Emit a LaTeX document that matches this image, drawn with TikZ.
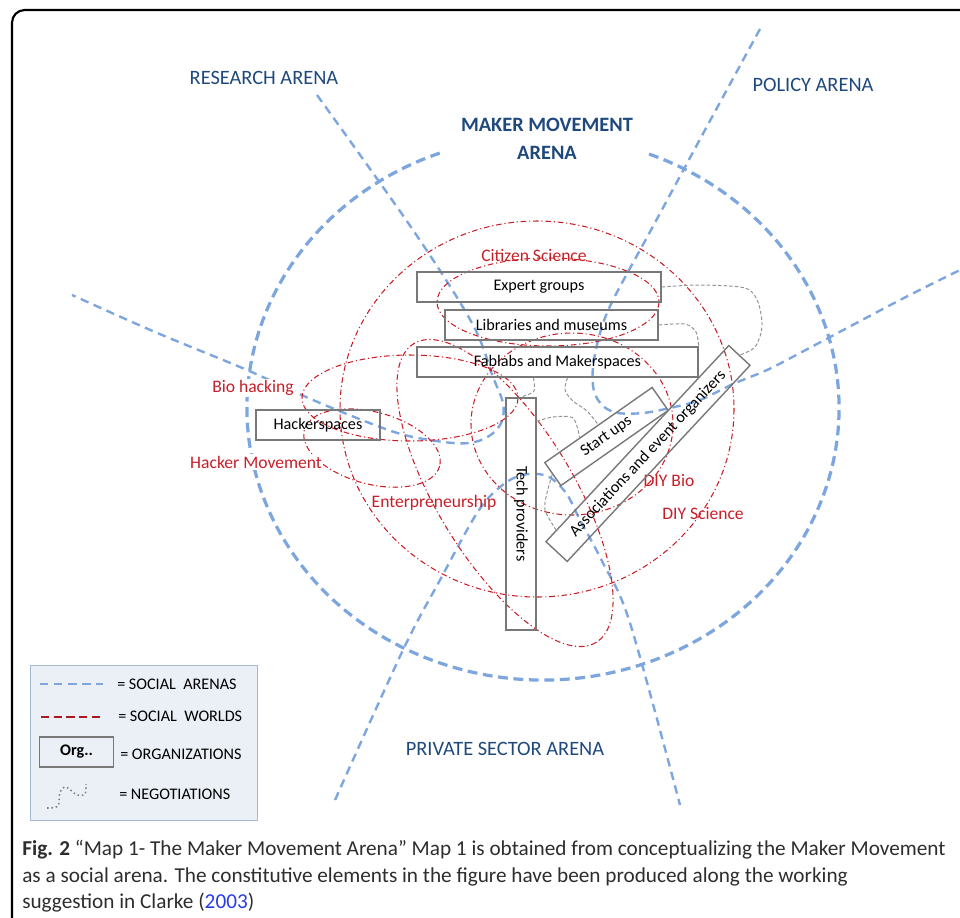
\documentclass[tikz,border=0pt]{standalone}
\usepackage{fontspec}
\setmainfont{Carlito}
\usetikzlibrary{calc}

\definecolor{arenablue}{RGB}{125,166,222}
\definecolor{arenatext}{RGB}{31,73,125}
\definecolor{worldred}{RGB}{200,30,40}
\definecolor{orggray}{RGB}{120,120,120}
\definecolor{keyfill}{RGB}{235,240,246}
\definecolor{keyline}{RGB}{165,185,212}
\definecolor{captiongray}{RGB}{45,45,45}
\definecolor{citeblue}{RGB}{40,60,230}

\begin{document}
\begin{tikzpicture}[
				x=0.025cm, y=-0.025cm,
				arena/.style={arenablue, line width=1.7pt, dash pattern=on 6pt off 4pt},
				mainarena/.style={arenablue, line width=2.3pt, dash pattern=on 7pt off 4pt},
				world/.style={worldred, line width=0.75pt, dash pattern=on 4pt off 2pt on 0.8pt off 2pt},
				nego/.style={gray!85, line width=0.7pt, dash pattern=on 2.5pt off 1.5pt},
				org/.style={
					draw=orggray,
					line width=1pt,
					rectangle,
					inner sep=0pt,
					minimum height=0.75cm,
					font=\fontsize{11.5}{13}\selectfont
				},
				arenaname/.style={text=arenatext, font=\fontsize{14.5}{20}\selectfont, align=center},
				worldname/.style={text=worldred, font=\fontsize{12.5}{14}\selectfont, inner sep=1pt},
				keytext/.style={anchor=west, font=\fontsize{11.5}{13}\selectfont, inner sep=0pt}
				]
				\useasboundingbox (0,0) rectangle (960,917);
				\draw[line width=1.5pt, rounded corners=9pt] (12,960) -- (12,10) -- (1000,10);
				
				% social arenas
				\draw[mainarena] (543,408) ++(291:296 and 272)
				arc[start angle=291, end angle=610, x radius=296, y radius=272];
				\draw[arena] plot[smooth, tension=0.55] coordinates {(317,95) (413,230) (472,323) (493,377) (503,403) (502,421) (492,434) (475,442) (453,443) (413,437) (380,427) (313,400) (247,370) (155,332) (72,295)};
				\draw[arena] plot[smooth, tension=0.55] coordinates {(760,29) (705,130) (651,230) (613,300) (600,333) (593,367) (594,391) (603,406) (618,413) (643,413) (670,408) (700,400) (733,384) (767,370) (800,353) (900,300) (960,270)};
				\draw[arena] plot[smooth, tension=0.55] coordinates {(335,800) (403,650) (440,580) (477,513) (500,487) (522,475) (547,476) (566,493) (580,520) (603,563) (630,623) (680,805)};
				
				% social worlds
				\draw[world] (537,409) ellipse [x radius=197, y radius=188];
				\draw[world] (548,302) ellipse [x radius=111, y radius=44];
				\draw[world] (410,398) ellipse [x radius=108, y radius=43];
				\draw[world, rotate around={-15:(372,448)}] (372,448) ellipse [x radius=70, y radius=36];
				\draw[world, rotate around={-58.6:(505,493)}] (505,493) ellipse [x radius=175, y radius=68];
				\draw[world] (572,424) ellipse [x radius=101, y radius=91];
				
				\node[arenaname] (research) at (264,78) {RESEARCH ARENA};
				\node[arenaname] (policy) at (813,85) {POLICY ARENA};
				\node[arenaname, font=\fontsize{14.5}{20}\selectfont\bfseries] (maker) at (547,139) {MAKER MOVEMENT\\ARENA};
				\node[arenaname] (private) at (505,749) {PRIVATE SECTOR ARENA};
				
				\node[worldname] (citizen) at (534,255) {Citizen Science};
				\node[worldname, fill=white] (biohack) at (253,388) {Bio hacking};
				\node[worldname, fill=white] (hackmove) at (256,462) {Hacker Movement};
				\node[worldname] (entre) at (434,503) {Enterpreneurship};
				\node[worldname] (diybio) at (669,480) {DIY Bio};
				\node[worldname] (diysci) at (703,514) {DIY Science};
				
				% organizations
				\node[org, minimum width=6.1cm] (expert) at (539,287) {Expert groups};
				\node[org, minimum width=5.325cm] (library) at (551.5,325) {Libraries and museums};
				\node[org, minimum width=7.025cm] (fablab) at (557.5,362) {Fablabs and Makerspaces};
				\node[org, minimum width=3.1cm] (hacker) at (318,425) {Hackerspaces};
				\node[org, minimum width=5.8cm, rotate=-90] (tech) at (521,514) {Tech providers};
				\node[org, minimum width=3.275cm, minimum height=0.7cm, rotate=35] (startup) at (606.5,436.5) {Start ups};
				\node[org, minimum width=6.7cm, minimum height=0.725cm, rotate=47] (assoc) at (648,453.5) {Associations and event organizers};
				
				% negotiations
				\draw[nego] plot[smooth] coordinates {(expert.east) (700,285) (745,288) (758,302) (762,327) (755,347) (assoc.east)};
				\draw[nego] plot[smooth] coordinates {(library.east) (685,324) (696,332) (fablab.north east)};
				\draw[nego] plot[smooth] coordinates {($(fablab.south)+(-24,0)$) (534,391) (524,396) (tech.west)};
				\draw[nego] plot[smooth] coordinates {($(fablab.south)+(10,0)$) (565,390) (573,401) (587,411) (startup.north)};
				\draw[nego] plot[smooth] coordinates {($(tech.north west)+(0,24)$) (553,417) (573,418) ($(startup.north west)!0.33!(startup.north east)$)};
				\draw[nego] plot[smooth] coordinates {(startup.west) (547,493) (545,510) ($(assoc.north west)!0.06!(assoc.north east)$)};
				
				% key
				\node[draw=keyline, fill=keyfill, line width=0.6pt, inner sep=0pt, minimum width=5.675cm, minimum height=3.875cm] (key) at (143.5,742.5) {};
				\draw[arena] (40,684) -- (103,684);
				\draw[worldred!85!black, line width=2pt, dash pattern=on 6pt off 3pt] (41,717) -- (104,717);
				\node[org, minimum width=1.85cm, font=\fontsize{11.5}{13}\selectfont\bfseries] (orgkey) at (76.5,752) {Org..};
				\draw[gray, line width=1.1pt, dotted] plot[smooth] coordinates {(47,808) (58,806) (60,792) (66,787) (77,795) (85,794) (86,784)};
				\node[keytext] (k1) at (117,684) {= SOCIAL\ \ ARENAS};
				\node[keytext] (k2) at (118,716) {= SOCIAL\ \ WORLDS};
				\node[keytext] (k3) at (120,754) {= ORGANIZATIONS};
				\node[keytext] (k4) at (119,794) {= NEGOTIATIONS};
				
				% caption
				\node[anchor=north west, align=left, inner sep=0pt, text=captiongray, font=\fontsize{15.1}{18.8}\selectfont] (caption) at (22,840)
				{\textbf{Fig. 2} “Map 1- The Maker Movement Arena” Map 1 is obtained from conceptualizing the Maker Movement\\
				as a social arena. The constitutive elements in the figure have been produced along the working\\
				suggestion in Clarke (\textcolor{citeblue}{2003})};
			\end{tikzpicture}
\end{document}
